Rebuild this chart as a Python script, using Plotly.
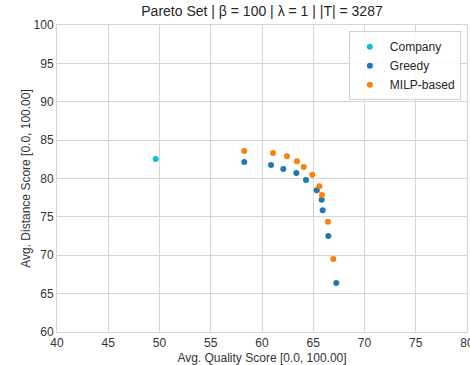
import plotly.graph_objects as go

# Pareto front points (avg. quality score, avg. distance score)
company_quality = [49.63]
company_distance = [82.54]

greedy_quality = [58.27, 60.88, 62.08, 63.35, 64.29, 65.34, 65.82, 65.92, 66.47, 67.25]
greedy_distance = [82.15, 81.76, 81.24, 80.72, 79.80, 78.46, 77.24, 75.86, 72.51, 66.38]

milp_quality = [58.27, 61.07, 62.44, 63.41, 64.07, 64.91, 65.59, 65.85, 66.44, 66.96]
milp_distance = [83.58, 83.32, 82.89, 82.24, 81.50, 80.50, 78.98, 77.85, 74.37, 69.51]

x_ticks = [40, 45, 50, 55, 60, 65, 70, 75, 80]
y_ticks = [60, 65, 70, 75, 80, 85, 90, 95, 100]

font_family = "Liberation Sans, Arial, sans-serif"
grid_color = "#d5d5d5"

fig = go.Figure()
series = [
    ("Company", company_quality, company_distance, "#17becf"),
    ("Greedy", greedy_quality, greedy_distance, "#1f77b4"),
    ("MILP-based", milp_quality, milp_distance, "#ff7f0e"),
]
for name, xs, ys, color in series:
    fig.add_trace(go.Scatter(
        x=xs, y=ys, mode="markers", name=name,
        marker=dict(color=color, size=6, line=dict(width=0)),
    ))

axis_common = dict(
    showgrid=True, gridcolor=grid_color, gridwidth=1,
    showline=True, linecolor=grid_color, linewidth=1, mirror=True,
    zeroline=False, ticks="", tickfont=dict(size=12, color="#333333"),
    ticklabeloverflow="allow",
)

fig.update_layout(
    width=470, height=365,
    margin=dict(l=57, r=3, t=25, b=33),
    paper_bgcolor="white", plot_bgcolor="white",
    font=dict(family=font_family, color="#333333"),
    title=dict(
        text="Pareto Set | β = 100 | λ = 1 | |T| = 3287",
        x=0.5, xref="paper", y=1, yref="container", yanchor="top", pad=dict(t=6),
        font=dict(size=14, color="#262626"),
    ),
    xaxis=dict(
        range=[40, 80], tickvals=x_ticks, ticktext=[str(v) for v in x_ticks],
        title=dict(text="Avg. Quality Score [0.0, 100.00]", font=dict(size=12)),
        automargin=False,
        **axis_common,
    ),
    yaxis=dict(
        range=[60, 100], tickvals=y_ticks, ticktext=[str(v) for v in y_ticks],
        title=dict(text="Avg. Distance Score [0.0, 100.00]", font=dict(size=12), standoff=0),
        automargin=True,
        **axis_common,
    ),
    legend=dict(
        x=0.985, y=0.98, xanchor="right", yanchor="top",
        bgcolor="rgba(255,255,255,0.85)", bordercolor="#d0d0d0", borderwidth=1,
        font=dict(size=12, color="#262626"),
        itemwidth=30,
    ),
    showlegend=True,
)

fig.write_html("out.html")
